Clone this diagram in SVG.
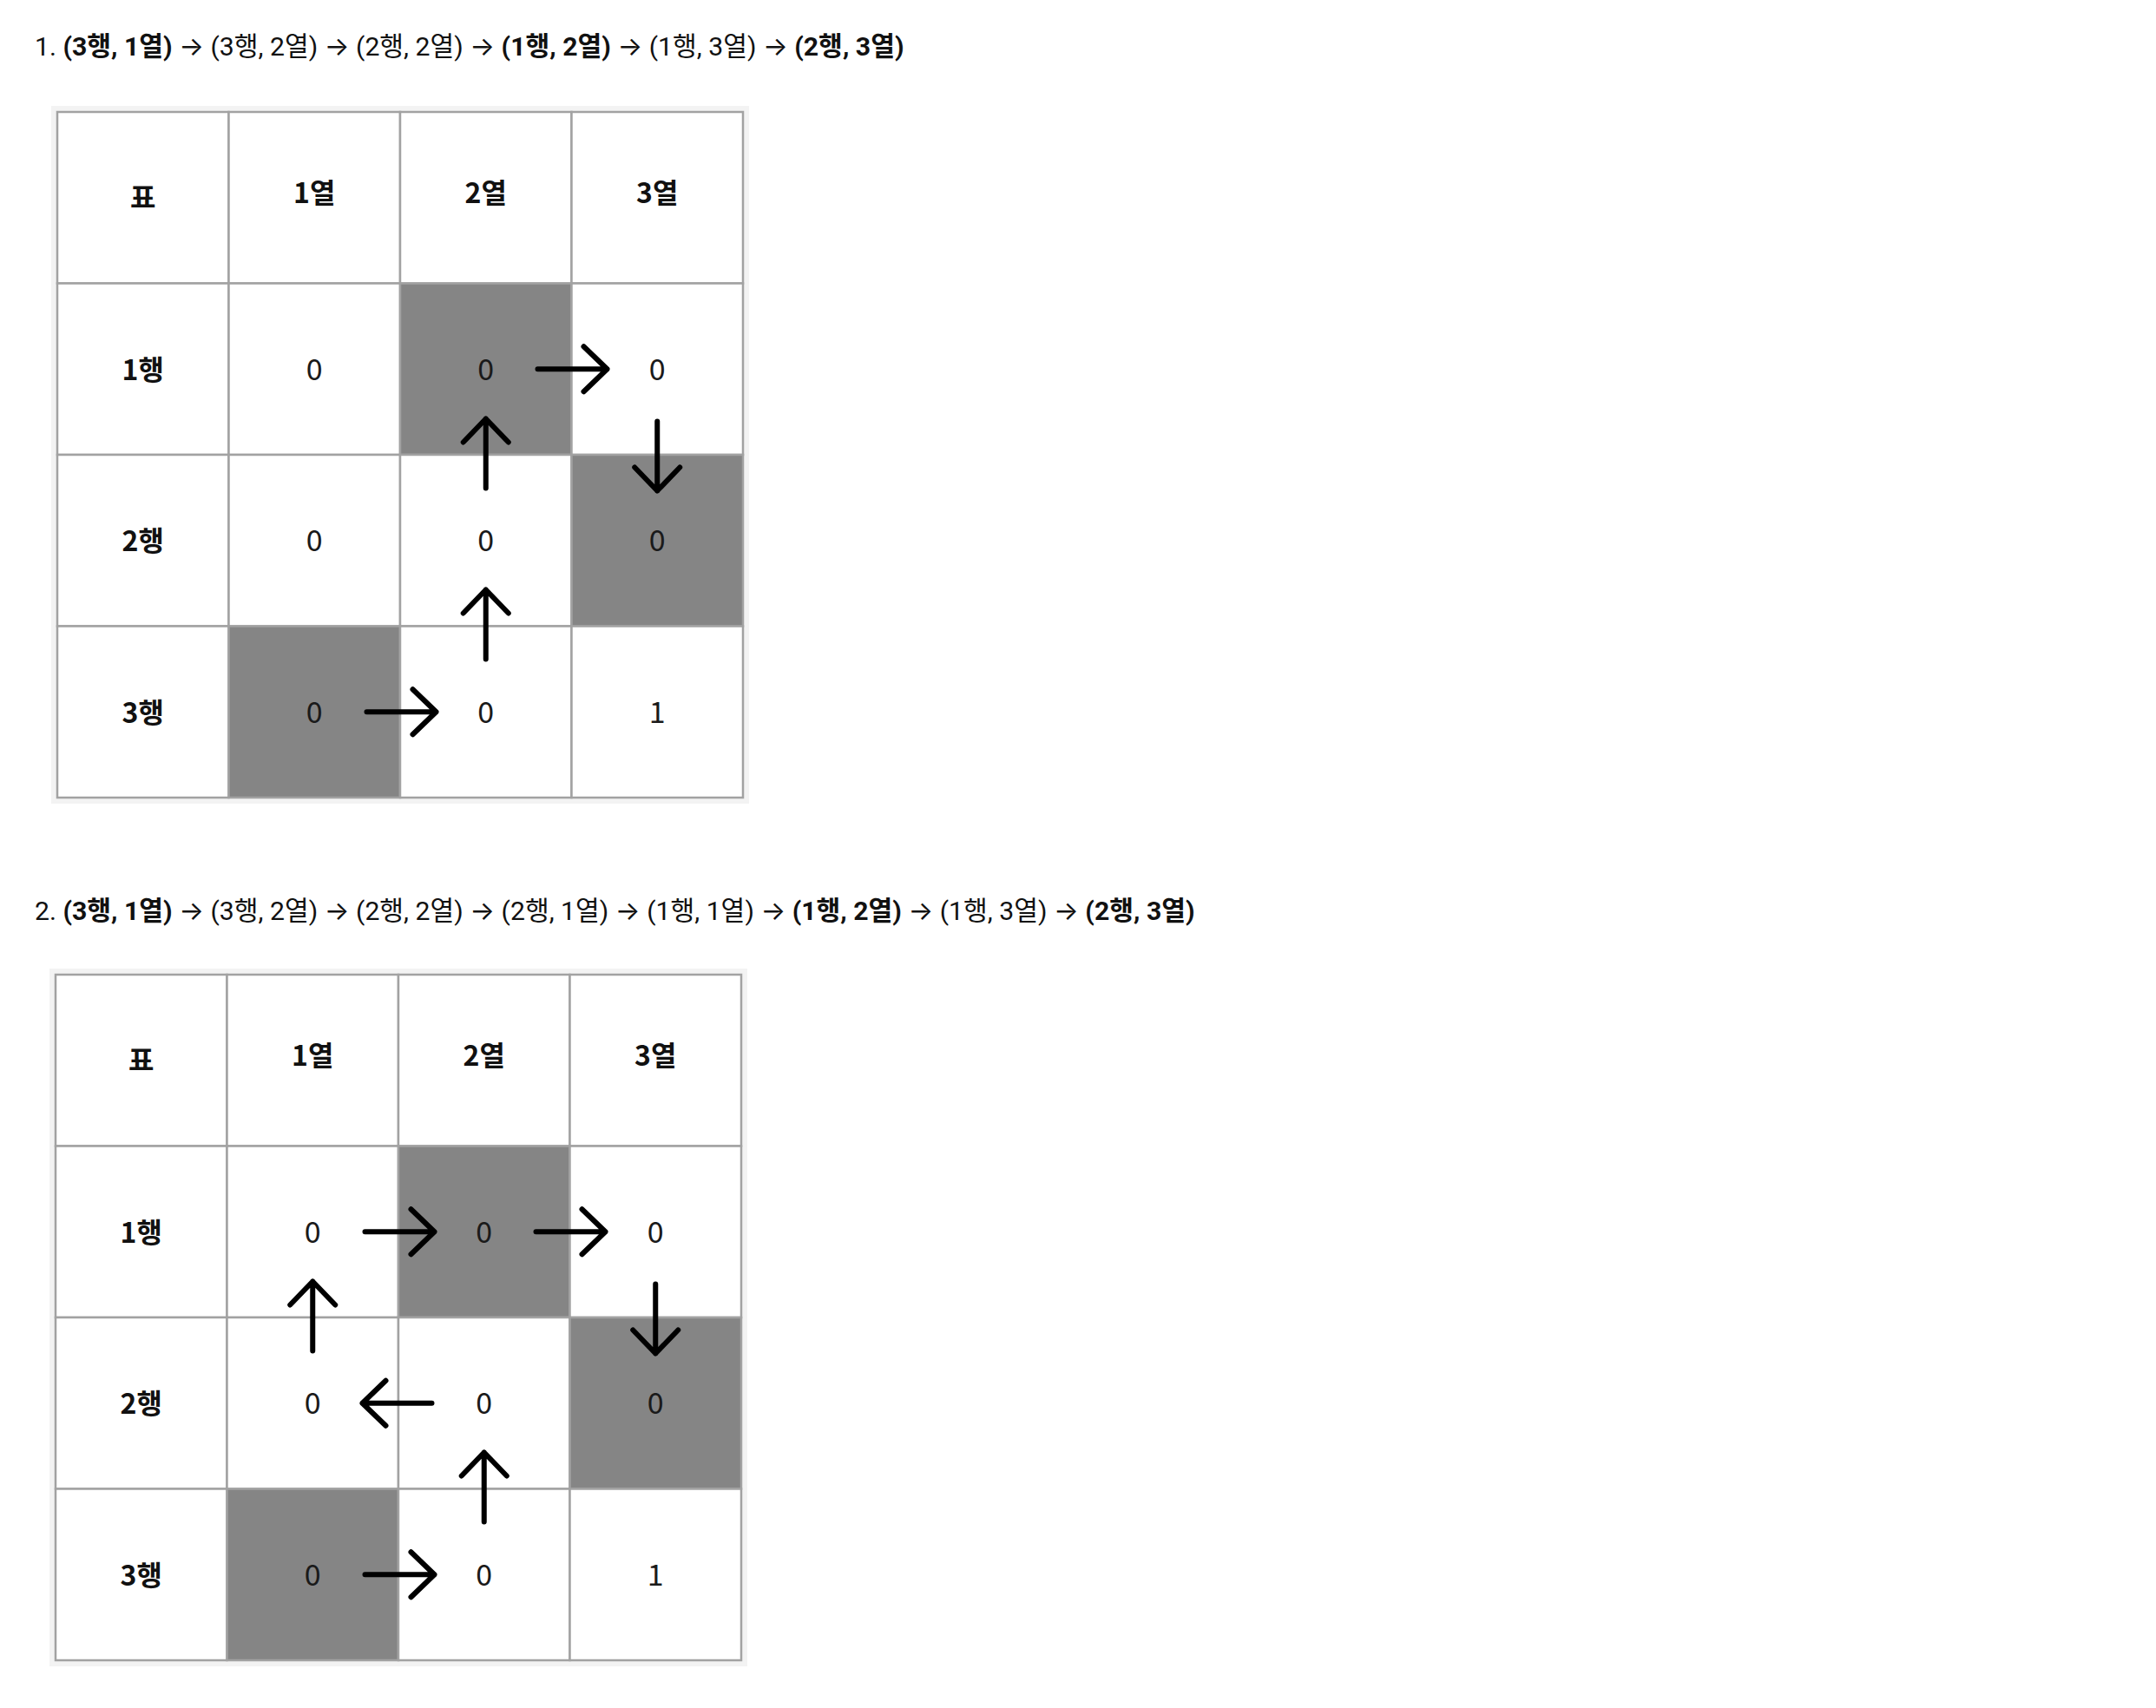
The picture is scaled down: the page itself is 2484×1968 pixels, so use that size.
<svg xmlns="http://www.w3.org/2000/svg" xmlns:xlink="http://www.w3.org/1999/xlink" width="2484" height="1968" viewBox="0 0 2484 1968">
<style>
text{font-family:"Noto Sans CJK KR","Noto Sans",sans-serif;fill:#111}
.title{font-family:Roboto,"Noto Sans CJK KR",sans-serif;font-size:30.2px}
.ar{font-family:Inter,"DejaVu Sans",sans-serif}
.b{font-weight:700}
.hd{font-size:32px;font-weight:700;text-anchor:middle}
.v{font-size:34px;font-weight:400;text-anchor:middle;fill:#1a1a1a}
.frame{fill:#f3f3f3}
.c{fill:#ffffff;stroke:#a2a2a2;stroke-width:2.5}
.g{fill:#858585;stroke:#a2a2a2;stroke-width:2.5}
.arr{fill:none;stroke:#000;stroke-width:6;stroke-linecap:round;stroke-linejoin:round}
</style>
<defs>
<path id="arrow" class="arr" d="M-40,0 H40 M13,-26 L40,0 L13,26"/>
</defs>
<rect width="2484" height="1968" fill="#ffffff"/>

<g id="title1"><text class="title" x="40" y="64">1. <tspan class="b">(3행, 1열)</tspan> <tspan class="ar">→</tspan> (3행, 2열) <tspan class="ar">→</tspan> (2행, 2열) <tspan class="ar">→</tspan> <tspan class="b">(1행, 2열)</tspan> <tspan class="ar">→</tspan> (1행, 3열) <tspan class="ar">→</tspan> <tspan class="b">(2행, 3열)</tspan></text></g>

<g id="table1" transform="translate(66,129)">
<rect class="frame" x="-7" y="-7" width="804" height="804"/>
<g id="t1-h0"><rect class="c" x="0" y="0" width="197.5" height="197.5"/><text class="hd" x="98.75" y="110">표</text></g>
<g id="t1-h1"><rect class="c" x="197.5" y="0" width="197.5" height="197.5"/><text class="hd" x="296.25" y="105">1열</text></g>
<g id="t1-h2"><rect class="c" x="395" y="0" width="197.5" height="197.5"/><text class="hd" x="493.75" y="105">2열</text></g>
<g id="t1-h3"><rect class="c" x="592.5" y="0" width="197.5" height="197.5"/><text class="hd" x="691.25" y="105">3열</text></g>
<g id="t1-r1"><rect class="c" x="0" y="197.5" width="197.5" height="197.5"/><text class="hd" x="98.75" y="308.5">1행</text></g>
<g id="t1-c11"><rect class="c" x="197.5" y="197.5" width="197.5" height="197.5"/><text class="v" x="296.25" y="308.75">0</text></g>
<g id="t1-c12"><rect class="g" x="395" y="197.5" width="197.5" height="197.5"/><text class="v" x="493.75" y="308.75">0</text></g>
<g id="t1-c13"><rect class="c" x="592.5" y="197.5" width="197.5" height="197.5"/><text class="v" x="691.25" y="308.75">0</text></g>
<g id="t1-r2"><rect class="c" x="0" y="395" width="197.5" height="197.5"/><text class="hd" x="98.75" y="506">2행</text></g>
<g id="t1-c21"><rect class="c" x="197.5" y="395" width="197.5" height="197.5"/><text class="v" x="296.25" y="506.25">0</text></g>
<g id="t1-c22"><rect class="c" x="395" y="395" width="197.5" height="197.5"/><text class="v" x="493.75" y="506.25">0</text></g>
<g id="t1-c23"><rect class="g" x="592.5" y="395" width="197.5" height="197.5"/><text class="v" x="691.25" y="506.25">0</text></g>
<g id="t1-r3"><rect class="c" x="0" y="592.5" width="197.5" height="197.5"/><text class="hd" x="98.75" y="703.5">3행</text></g>
<g id="t1-c31"><rect class="g" x="197.5" y="592.5" width="197.5" height="197.5"/><text class="v" x="296.25" y="703.75">0</text></g>
<g id="t1-c32"><rect class="c" x="395" y="592.5" width="197.5" height="197.5"/><text class="v" x="493.75" y="703.75">0</text></g>
<g id="t1-c33"><rect class="c" x="592.5" y="592.5" width="197.5" height="197.5"/><text class="v" x="691.25" y="703.75">1</text></g>
</g>

<g id="title2"><text class="title" x="40" y="1060">2. <tspan class="b">(3행, 1열)</tspan> <tspan class="ar">→</tspan> (3행, 2열) <tspan class="ar">→</tspan> (2행, 2열) <tspan class="ar">→</tspan> (2행, 1열) <tspan class="ar">→</tspan> (1행, 1열) <tspan class="ar">→</tspan> <tspan class="b">(1행, 2열)</tspan> <tspan class="ar">→</tspan> (1행, 3열) <tspan class="ar">→</tspan> <tspan class="b">(2행, 3열)</tspan></text></g>

<g id="table2" transform="translate(64,1123)">
<rect class="frame" x="-7" y="-7" width="804" height="804"/>
<g id="t2-h0"><rect class="c" x="0" y="0" width="197.5" height="197.5"/><text class="hd" x="98.75" y="110">표</text></g>
<g id="t2-h1"><rect class="c" x="197.5" y="0" width="197.5" height="197.5"/><text class="hd" x="296.25" y="105">1열</text></g>
<g id="t2-h2"><rect class="c" x="395" y="0" width="197.5" height="197.5"/><text class="hd" x="493.75" y="105">2열</text></g>
<g id="t2-h3"><rect class="c" x="592.5" y="0" width="197.5" height="197.5"/><text class="hd" x="691.25" y="105">3열</text></g>
<g id="t2-r1"><rect class="c" x="0" y="197.5" width="197.5" height="197.5"/><text class="hd" x="98.75" y="308.5">1행</text></g>
<g id="t2-c11"><rect class="c" x="197.5" y="197.5" width="197.5" height="197.5"/><text class="v" x="296.25" y="308.75">0</text></g>
<g id="t2-c12"><rect class="g" x="395" y="197.5" width="197.5" height="197.5"/><text class="v" x="493.75" y="308.75">0</text></g>
<g id="t2-c13"><rect class="c" x="592.5" y="197.5" width="197.5" height="197.5"/><text class="v" x="691.25" y="308.75">0</text></g>
<g id="t2-r2"><rect class="c" x="0" y="395" width="197.5" height="197.5"/><text class="hd" x="98.75" y="506">2행</text></g>
<g id="t2-c21"><rect class="c" x="197.5" y="395" width="197.5" height="197.5"/><text class="v" x="296.25" y="506.25">0</text></g>
<g id="t2-c22"><rect class="c" x="395" y="395" width="197.5" height="197.5"/><text class="v" x="493.75" y="506.25">0</text></g>
<g id="t2-c23"><rect class="g" x="592.5" y="395" width="197.5" height="197.5"/><text class="v" x="691.25" y="506.25">0</text></g>
<g id="t2-r3"><rect class="c" x="0" y="592.5" width="197.5" height="197.5"/><text class="hd" x="98.75" y="703.5">3행</text></g>
<g id="t2-c31"><rect class="g" x="197.5" y="592.5" width="197.5" height="197.5"/><text class="v" x="296.25" y="703.75">0</text></g>
<g id="t2-c32"><rect class="c" x="395" y="592.5" width="197.5" height="197.5"/><text class="v" x="493.75" y="703.75">0</text></g>
<g id="t2-c33"><rect class="c" x="592.5" y="592.5" width="197.5" height="197.5"/><text class="v" x="691.25" y="703.75">1</text></g>
</g>

<g id="connectors">
<g transform="translate(66,129)">
<use xlink:href="#arrow" href="#arrow" transform="translate(396.5,691.25)"/>
<use xlink:href="#arrow" href="#arrow" transform="translate(493.75,590.5) rotate(-90)"/>
<use xlink:href="#arrow" href="#arrow" transform="translate(493.75,393.5) rotate(-90)"/>
<use xlink:href="#arrow" href="#arrow" transform="translate(593.5,296.25)"/>
<use xlink:href="#arrow" href="#arrow" transform="translate(691.25,396.5) rotate(90)"/>
</g>
<g transform="translate(64,1123)">
<use xlink:href="#arrow" href="#arrow" transform="translate(396.5,691.25)"/>
<use xlink:href="#arrow" href="#arrow" transform="translate(493.75,590.5) rotate(-90)"/>
<use xlink:href="#arrow" href="#arrow" transform="translate(393.5,493.75) rotate(180)"/>
<use xlink:href="#arrow" href="#arrow" transform="translate(296.25,393.5) rotate(-90)"/>
<use xlink:href="#arrow" href="#arrow" transform="translate(396.5,296.25)"/>
<use xlink:href="#arrow" href="#arrow" transform="translate(593.5,296.25)"/>
<use xlink:href="#arrow" href="#arrow" transform="translate(691.25,396.5) rotate(90)"/>
</g>
</g>
</svg>
